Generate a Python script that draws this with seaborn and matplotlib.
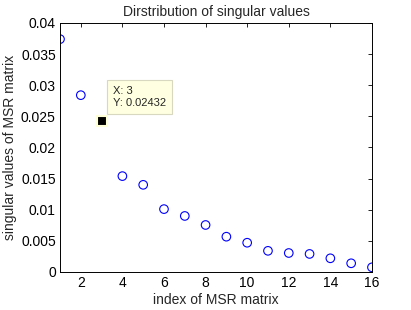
import matplotlib
matplotlib.use("Agg")
import matplotlib.pyplot as plt
from matplotlib.ticker import FormatStrFormatter
import numpy as np
import pandas as pd
import seaborn as sns

# singular values
index = list(range(1, 17))
singular_values = [0.0374, 0.0284, 0.02432, 0.0154, 0.0140, 0.0101, 0.0090, 0.00755,
                   0.00567, 0.0047, 0.0034, 0.00305, 0.0029, 0.0022, 0.0014, 0.00075]
x_ticks = [2, 4, 6, 8, 10, 12, 14, 16]
y_ticks = [0, 0.005, 0.01, 0.015, 0.02, 0.025, 0.03, 0.035, 0.04]
tip_index = 3
tip_text = "X: 3\nY: 0.02432"

sns.set_style("white")
plt.rcParams["font.family"] = ["Liberation Sans", "DejaVu Sans"]

df = pd.DataFrame({"index": index, "value": singular_values})

fig = plt.figure(figsize=(4.11, 3.10), dpi=100)
ax = fig.add_axes([0.146, 0.1226, 0.759, 0.8034])

sns.scatterplot(data=df[df["index"] != tip_index], x="index", y="value", ax=ax,
                marker="o", s=38, color="blue", linewidth=0.8, legend=False)
ax.collections[0].set_facecolor("none")
ax.collections[0].set_edgecolor("blue")

# data tip
tip_y = singular_values[index.index(tip_index)]
ax.plot([tip_index], [tip_y], marker="s", ms=7, color="black",
        mec="#FFFFD8", mew=1.5, zorder=5)
ax.annotate(tip_text, xy=(tip_index, tip_y), xytext=(3.55, 0.0281),
            fontsize=8, va="center", ha="left", linespacing=1.35,
            bbox=dict(boxstyle="square,pad=0.5", fc="#FFFFE1", ec="#D8D8C0", lw=0.8))

ax.set_xlim(1, 16)
ax.set_ylim(0, 0.04)
ax.set_xticks(x_ticks)
ax.set_yticks(y_ticks)
ax.yaxis.set_major_formatter(FormatStrFormatter("%g"))
ax.tick_params(direction="in", length=3, width=0.6, top=True, right=True,
               labelsize=10, colors="black", pad=3)
for s in ax.spines.values():
    s.set_visible(True)
    s.set_color("black")
    s.set_linewidth(0.7)

ax.set_xlabel("index of MSR matrix", fontsize=10, labelpad=2)
ax.set_ylabel("singular values of MSR matrix", fontsize=10, labelpad=3)
ax.set_title("Dirstribution of singular values", fontsize=10, pad=5)

fig.savefig("out.png", dpi=100)
